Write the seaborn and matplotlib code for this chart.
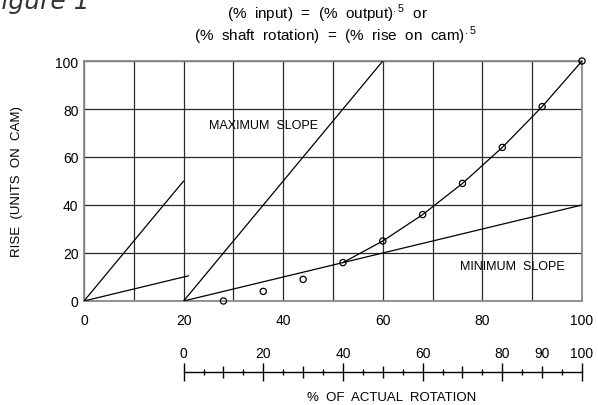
import matplotlib
matplotlib.use('Agg')
import matplotlib.pyplot as plt
import seaborn as sns
from matplotlib.ticker import MultipleLocator, FuncFormatter, NullFormatter

sns.set_theme(style='white')
plt.rcParams['font.family'] = ['Liberation Sans', 'DejaVu Sans']

# circles (x = shaft rotation on main scale, y = rise)
pt_x = [28, 36, 44, 52, 60, 68, 76, 84, 92, 100]
pt_y = [0, 4, 9, 16, 25, 36, 49, 64, 81, 100]
# part of the curve that is drawn as a line
curve_x = [52, 60, 68, 76, 84, 92, 100]
curve_y = [16, 25, 36, 49, 64, 81, 100]
# slope lines
max_x = [20, 60]
max_y = [0, 100]
min_x = [20, 100]
min_y = [0, 40]
small_max_x = [0, 20]
small_max_y = [0, 50]
small_min_x = [0, 21]
small_min_y = [0, 10.5]

y_ticks = [0, 20, 40, 60, 80, 100]
rot_major = [0, 20, 40, 60, 80, 100]
rot_mid = [10, 30, 50, 70, 90]
rot_small = [5, 15, 25, 35, 45, 55, 65, 75, 85, 95]

fig = plt.figure(figsize=(5.98, 4.06), dpi=100)
ax = fig.add_axes([0.14047, 0.25616, 0.83278, 0.59113])

lw = 0.9
for xs, ys in [(max_x, max_y), (min_x, min_y), (small_max_x, small_max_y),
               (small_min_x, small_min_y), (curve_x, curve_y)]:
    sns.lineplot(x=xs, y=ys, ax=ax, color='black', lw=lw, sort=False, zorder=3)

sns.scatterplot(x=pt_x, y=pt_y, ax=ax, s=20, marker='o', facecolor='none',
                edgecolor='black', linewidth=0.9, clip_on=False, zorder=4)

ax.set_xlim(0, 100)
ax.set_ylim(0, 100)
ax.xaxis.set_major_locator(MultipleLocator(20))
ax.xaxis.set_minor_locator(MultipleLocator(10))
ax.set_yticks(y_ticks)
ax.grid(which='both', axis='x', color='#2a2a2a', lw=0.9)
ax.grid(which='major', axis='y', color='#2a2a2a', lw=0.9)
ax.set_axisbelow(True)
ax.tick_params(which='both', length=0, labelsize=10, colors='black')
ax.tick_params(axis='x', pad=9)
ax.tick_params(axis='y', pad=4)
for s in ax.spines.values():
    s.set_color('#8a8a8a')
    s.set_linewidth(1.3)

ax.set_ylabel('RISE  (UNITS  ON  CAM)', fontsize=9.5, color='black')
ax.yaxis.set_label_coords(-0.1225, 0.5)

ax.text(25, 73.5, 'MAXIMUM  SLOPE', fontsize=9, ha='left', va='center', color='black')
ax.text(75.5, 14.6, 'MINIMUM  SLOPE', fontsize=9, ha='left', va='center', color='black')

# second scale: % of actual rotation
ax2 = fig.add_axes([0.30702, 1 - 373 / 406, 0.66622, 0.0001])
ax2.set_xlim(0, 100)
ax2.set_ylim(0, 1)
ax2.patch.set_visible(False)
for s in ['left', 'right', 'bottom']:
    ax2.spines[s].set_visible(False)
ax2.spines['top'].set_color('black')
ax2.spines['top'].set_linewidth(1.0)
ax2.set_yticks([])
ax2.xaxis.tick_top()
ax2.set_xticks(rot_major)
ax2.set_xticks(rot_mid, minor=True)
ax2.xaxis.set_minor_formatter(FuncFormatter(lambda v, p: '90' if round(v) == 90 else ''))
ax2.tick_params(axis='x', which='major', direction='inout', length=13, width=1,
                labelsize=10, pad=2, colors='black')
ax2.tick_params(axis='x', which='minor', direction='inout', length=8, width=1,
                labelsize=10, pad=4.5, colors='black')
sec = ax2.secondary_xaxis('top')
sec.set_xticks(rot_small)
sec.xaxis.set_major_formatter(NullFormatter())
sec.tick_params(axis='x', direction='inout', length=5, width=1, colors='black')
sec.spines['top'].set_visible(False)

fig.text(392 / 598, 1 - 398 / 406, '%  OF  ACTUAL  ROTATION', fontsize=9.5,
         ha='center', va='center', color='black')

fig.text(328 / 598, 1 - 14 / 406, r'(%  input)  =  (%  output)$^{\mathregular{.5}}$  or',
         fontsize=11, ha='center', va='center', color='black')
fig.text(335 / 598, 1 - 36 / 406,
         r'(%  shaft  rotation)  =  (%  rise  on  cam)$^{\mathregular{.5}}$',
         fontsize=11, ha='center', va='center', color='black')
fig.text(-0.022, 1 - 9 / 406, 'Figure 1', fontsize=18, style='italic',
         family='DejaVu Sans', color='#333333', ha='left', va='baseline')

fig.savefig('out.png', dpi=100)
